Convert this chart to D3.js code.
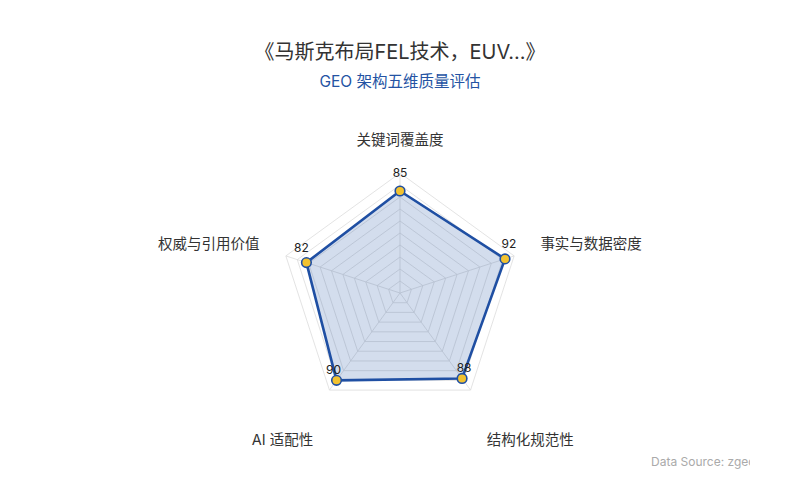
<!DOCTYPE html>
<html>
<head>
<meta charset="utf-8">
<script src="https://cdn.jsdelivr.net/npm/d3@7"></script>
<style>
  body { margin: 0; background: #fff; }
  svg text { font-family: Inter, "Noto Sans CJK SC", sans-serif; }
</style>
</head>
<body>
<svg id="radar" width="800" height="500"></svg>
<script>
// chart data
var indicators = ["关键词覆盖度", "事实与数据密度", "结构化规范性", "AI 适配性", "权威与引用价值"];
var scores = [85, 92, 88, 90, 82];
var maxScore = 100;
var levels = 10;

var svg = d3.select("#radar"),
  width = +svg.attr("width"),
  height = +svg.attr("height"),
  cx = 400,
  cy = 293,
  radius = 120;

// titles
svg.append("text")
  .attr("x", width / 2)
  .attr("y", 59)
  .attr("text-anchor", "middle")
  .attr("font-size", 20)
  .attr("fill", "#333")
  .text("《马斯克布局FEL技术，EUV...》");

svg.append("text")
  .attr("x", width / 2)
  .attr("y", 87)
  .attr("text-anchor", "middle")
  .attr("font-size", 15.5)
  .attr("fill", "#2453a3")
  .text("GEO 架构五维质量评估");

var r = d3.scaleLinear().domain([0, maxScore]).range([0, radius]);
var angle = d3.scaleLinear().domain([0, indicators.length]).range([0, 2 * Math.PI]);

function pt(i, v) {
  var a = angle(i);
  return [cx + r(v) * Math.sin(a), cy - r(v) * Math.cos(a)];
}

var g = svg.append("g");

// grid rings
var ringVals = d3.range(1, levels + 1).map(function (k) { return (maxScore / levels) * k; });
g.selectAll(".ring")
  .data(ringVals)
  .enter()
  .append("polygon")
  .attr("class", "ring")
  .attr("points", function (v) {
    return indicators.map(function (d, i) { return pt(i, v).join(","); }).join(" ");
  })
  .attr("fill", "none")
  .attr("stroke", "#dcdcdc")
  .attr("stroke-width", 0.8);

// axis spokes
g.selectAll(".spoke")
  .data(indicators)
  .enter()
  .append("line")
  .attr("class", "spoke")
  .attr("x1", cx)
  .attr("y1", cy)
  .attr("x2", function (d, i) { return pt(i, maxScore)[0]; })
  .attr("y2", function (d, i) { return pt(i, maxScore)[1]; })
  .attr("stroke", "#dcdcdc")
  .attr("stroke-width", 0.8);

// series area
var line = d3.line().curve(d3.curveLinearClosed);
g.append("path")
  .datum(scores.map(function (v, i) { return pt(i, v); }))
  .attr("d", line)
  .attr("fill", "rgba(36,83,163,0.2)")
  .attr("stroke", "#1f4fa3")
  .attr("stroke-width", 2.6)
  .attr("stroke-linejoin", "round");

// points
g.selectAll(".dot")
  .data(scores)
  .enter()
  .append("circle")
  .attr("class", "dot")
  .attr("cx", function (v, i) { return pt(i, v)[0]; })
  .attr("cy", function (v, i) { return pt(i, v)[1]; })
  .attr("r", 4.8)
  .attr("fill", "#f2c230")
  .attr("stroke", "#1f4fa3")
  .attr("stroke-width", 1.6);

// value labels
g.selectAll(".val")
  .data(scores)
  .enter()
  .append("text")
  .attr("class", "val")
  .attr("x", function (v, i) { return pt(i, v)[0] + [0, 4, 2, -3, -5][i]; })
  .attr("y", function (v, i) { return pt(i, v)[1] - [14, 11, 6, 6, 11][i]; })
  .attr("text-anchor", "middle")
  .attr("font-size", 12)
  .attr("fill", "#222")
  .text(function (v) { return v; });

// indicator names
g.selectAll(".name")
  .data(indicators)
  .enter()
  .append("text")
  .attr("class", "name")
  .attr("x", function (d, i) { return pt(i, maxScore + 23)[0]; })
  .attr("y", function (d, i) {
    var p = pt(i, maxScore + 23);
    var c = Math.cos(angle(i));
    return c > 0.5 ? p[1] : c < -0.5 ? p[1] + 33 : p[1] + 2;
  })
  .attr("text-anchor", function (d, i) {
    var s = Math.sin(angle(i));
    return Math.abs(s) < 0.01 ? "middle" : s > 0 ? "start" : "end";
  })
  .attr("font-size", 14.5)
  .attr("fill", "#333")
  .text(function (d) { return d; });

// source note (clipped like the original)
svg.append("clipPath")
  .attr("id", "srcclip")
  .append("rect")
  .attr("x", 600)
  .attr("y", 440)
  .attr("width", 150)
  .attr("height", 40);

svg.append("text")
  .attr("x", 651)
  .attr("y", 466)
  .attr("font-size", 12)
  .attr("fill", "#aaa")
  .attr("clip-path", "url(#srcclip)")
  .text("Data Source: zgeo.ai");
</script>
</body>
</html>
